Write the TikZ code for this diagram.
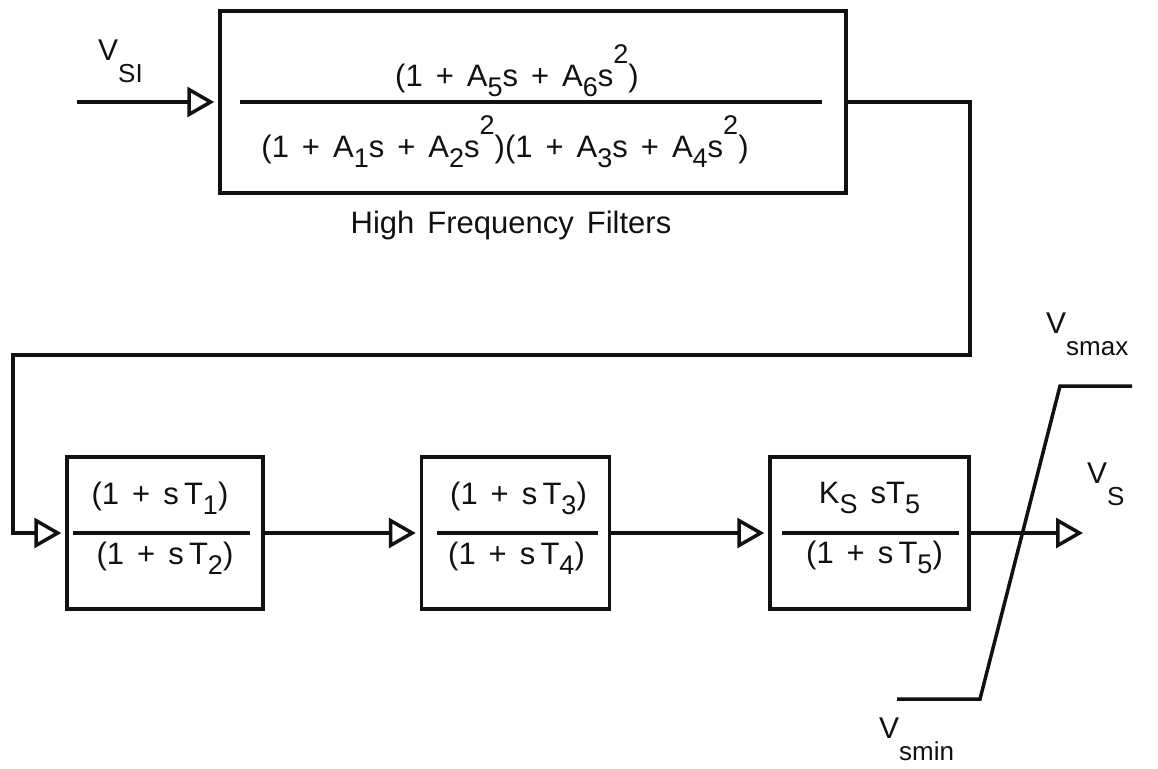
\documentclass[tikz,border=0pt]{standalone}
\usepackage{fontspec}
\setmainfont{Liberation Sans}
\usetikzlibrary{arrows.meta, positioning, calc}
\definecolor{ink}{HTML}{111111}

\newcommand{\gap}{\hspace{0.42em}}
\newcommand{\dnidx}[1]{\raisebox{-0.33em}{\fontsize{27}{27}\selectfont #1}}
\newcommand{\upidx}[1]{\raisebox{0.74em}{\fontsize{27}{27}\selectfont #1}}
\newcommand{\lblidx}[1]{\raisebox{-0.75em}{\fontsize{26}{26}\selectfont #1}}

\begin{document}
\begin{tikzpicture}[x=1pt, y=-1pt,
  node distance=155pt,
  blk/.style={draw=ink, line width=3.5pt, minimum height=152pt, inner sep=0pt},
  frac/.style={font=\fontsize{31}{35}\selectfont, text=ink, inner sep=0pt, anchor=base},
  captxt/.style={font=\fontsize{31}{35}\selectfont, text=ink, inner sep=0pt},
  bar/.style={draw=ink, line width=3.5pt},
  wire/.style={draw=ink, line width=3.5pt},
  arr/.style={wire, -{Triangle[open, length=27pt, width=30pt]}, shorten >=4pt},
  lbl/.style={font=\fontsize{30}{34}\selectfont, text=ink, inner sep=0pt, anchor=base west}
]
\useasboundingbox (0,0) rectangle (1158,768);

% high frequency filters
\node[blk, minimum width=626pt, minimum height=182pt] (hff) at (533,102) {};
\node[frac] (hffnum) at ($(hff.center)+(-16,-16)$)
  {(1\gap+\gap A\dnidx{5}s\gap+\gap A\dnidx{6}s\upidx{2})};
\node[frac] (hffden) at ($(hff.center)+(-28,55)$)
  {(1\gap+\gap A\dnidx{1}s\gap+\gap A\dnidx{2}s\upidx{2})(1\gap+\gap A\dnidx{3}s\gap+\gap A\dnidx{4}s\upidx{2})};
\draw[bar] ($(hff.west)+(22,0)$) -- ($(hff.east)+(-26,0)$);
\node[captxt, below=16pt of hff, xshift=-22pt] (hffcap) {High\gap Frequency\gap Filters};

% lead-lag and washout blocks
\node[blk, minimum width=196pt] (lead1) at (165,533) {};
\node[blk, minimum width=188pt, right=of lead1] (lead2) {};
\node[blk, minimum width=199pt, right=157pt of lead2] (wash) {};

\node[frac] (lead1num) at ($(lead1.center)+(-5,-29)$) {(1\gap+\gap s\,T\dnidx{1})};
\node[frac] (lead1den) at ($(lead1.center)+(0,31)$) {(1\gap+\gap s\,T\dnidx{2})};
\draw[bar] ($(lead1.west)+(8,0)$) -- ($(lead1.east)+(-15,0)$);

\node[frac] (lead2num) at ($(lead2.center)+(3,-29)$) {(1\gap+\gap s\,T\dnidx{3})};
\node[frac] (lead2den) at ($(lead2.center)+(1,31)$) {(1\gap+\gap s\,T\dnidx{4})};
\draw[bar] ($(lead2.west)+(17,0)$) -- ($(lead2.east)+(-13,0)$);

\node[frac] (washnum) at ($(wash.center)+(0,-30)$) {K\dnidx{S}\gap sT\dnidx{5}};
\node[frac] (washden) at ($(wash.center)+(5,30)$) {(1\gap+\gap s\,T\dnidx{5})};
\draw[bar] ($(wash.west)+(14,0)$) -- ($(wash.east)+(-12,0)$);

% signal path
\coordinate (vsin) at (77,102);
\coordinate (fbtop) at (970,355);
\coordinate (fbleft) at (13,355);
\coordinate (vsout) at (1083,533);

\draw[arr] (vsin) -- (hff.west);
\draw[arr] (hff.east) -| (fbtop) -- (fbleft) |- (lead1.west);
\draw[arr] (lead1) -- (lead2);
\draw[arr] (lead2) -- (wash);
\draw[arr, shorten >=0pt] (wash.east) -- (vsout);

% limiter
\draw[wire] (897,699) -- (980,699) -- (1060,386) -- (1132,386);

\node[lbl] (vsi) at (98,60) {V\lblidx{SI}};
\node[lbl] (vs) at (1087,483) {V\lblidx{S}};
\node[lbl] (vsmax) at (1046,333) {V\lblidx{smax}};
\node[lbl] (vsmin) at (879,738) {V\lblidx{smin}};
\end{tikzpicture}
\end{document}
